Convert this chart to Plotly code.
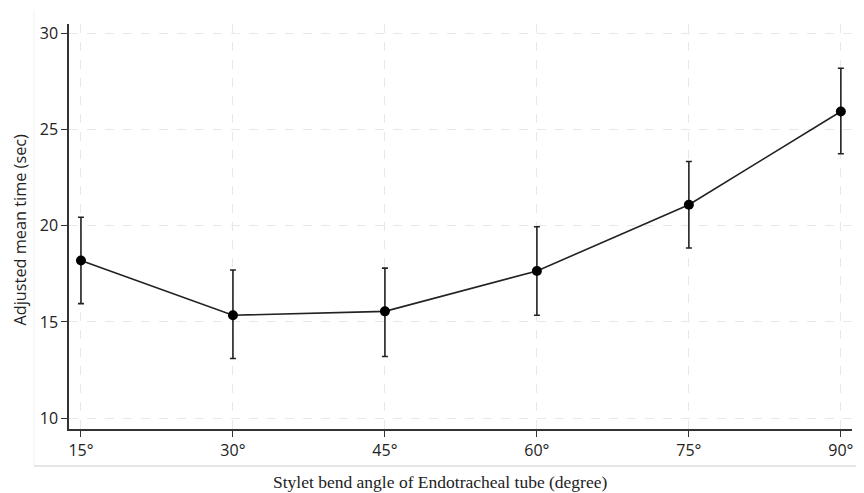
import plotly.graph_objects as go

angles = [15, 30, 45, 60, 75, 90]
angle_labels = ["15°", "30°", "45°", "60°", "75°", "90°"]
mean_time = [18.2, 15.35, 15.55, 17.65, 21.1, 25.95]
ci_low = [15.95, 13.1, 13.2, 15.35, 18.85, 23.75]
ci_high = [20.45, 17.7, 17.8, 19.95, 23.35, 28.2]
y_ticks = [10, 15, 20, 25, 30]

err_plus = [h - m for h, m in zip(ci_high, mean_time)]
err_minus = [m - l for m, l in zip(mean_time, ci_low)]

fig = go.Figure()
fig.add_trace(go.Scatter(
    x=angles, y=mean_time, mode="lines+markers",
    line=dict(color="#222222", width=1.6),
    marker=dict(color="#000000", size=10),
    error_y=dict(type="data", array=err_plus, arrayminus=err_minus,
                 color="#222222", thickness=1.6, width=3),
    showlegend=False,
))

# page body has an 8px margin, so the figure is drawn at (8, 8)
fig.update_layout(
    width=856, height=485,
    margin=dict(l=61, r=12, t=16, b=64, autoexpand=False),
    paper_bgcolor="white", plot_bgcolor="white",
    font=dict(family="Open Sans, Noto Sans, sans-serif", color="#222222", size=16),
    xaxis=dict(
        range=[13.82, 91.1], tickvals=angles, ticktext=angle_labels,
        showline=True, linecolor="#333333", linewidth=1.5,
        ticks="outside", ticklen=6, tickcolor="#333333", tickwidth=1.2,
        showgrid=True, gridcolor="#e8e8e8", griddash="dash", gridwidth=1,
        zeroline=False, tickfont=dict(size=16), automargin=False,
    ),
    yaxis=dict(
        range=[9.43, 30.5], tickvals=y_ticks,
        showline=True, linecolor="#333333", linewidth=1.5,
        ticks="outside", ticklen=6, tickcolor="#333333", tickwidth=1.2,
        showgrid=True, gridcolor="#e8e8e8", griddash="dash", gridwidth=1,
        zeroline=False, tickfont=dict(size=16), automargin=False,
    ),
    annotations=[
        dict(text="Stylet bend angle of Endotracheal tube (degree)",
             xref="paper", yref="paper", x=(440 - 69) / 783, y=(429 - 482) / 405,
             xanchor="center", yanchor="middle", showarrow=False,
             font=dict(family="Liberation Serif, DejaVu Serif, serif", size=17.5, color="#222222")),
        dict(text="Adjusted mean time (sec)",
             xref="paper", yref="paper", x=(19.5 - 69) / 783, y=(429 - 230) / 405,
             xanchor="center", yanchor="middle", showarrow=False, textangle=-90,
             font=dict(family="Open Sans, Noto Sans, sans-serif", size=16.3, color="#222222")),
    ],
    shapes=[
        dict(type="line", xref="paper", yref="paper", x0=-0.0447, x1=1.02,
             y0=-0.0914, y1=-0.0914, line=dict(color="#dddddd", width=1.5)),
        dict(type="line", xref="paper", yref="paper", x0=-0.0447, x1=-0.0447,
             y0=-0.0914, y1=1.035, line=dict(color="#f2f2f2", width=1)),
    ],
)

fig.write_html("out.html")
